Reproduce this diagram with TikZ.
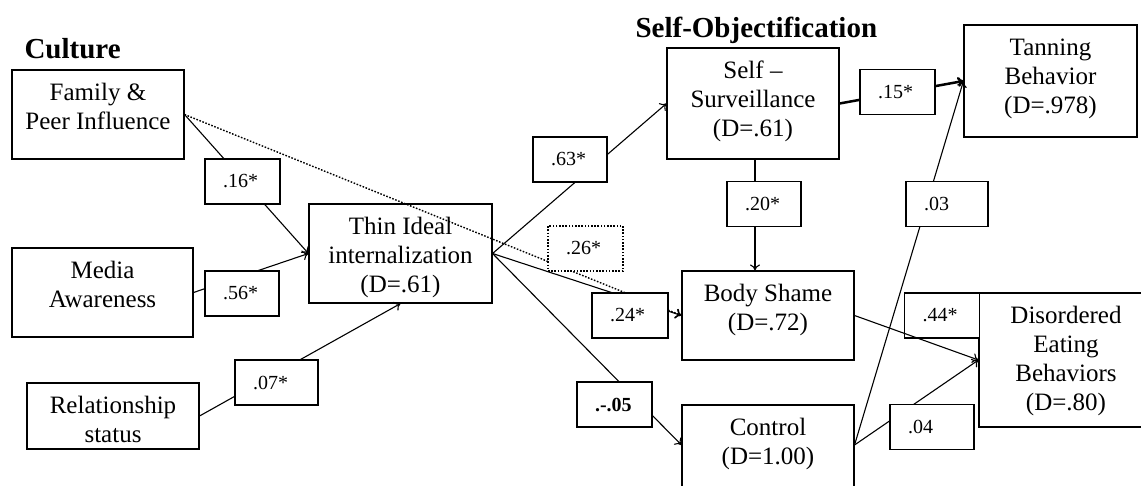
\documentclass[tikz,border=0pt]{standalone}
\usepackage{fontspec}
\setmainfont{Liberation Serif}
\usetikzlibrary{arrows.meta}
\newcommand{\boxtxt}[3]{\parbox[c][#2][t]{#1}{\centering\vspace*{10pt}\strut #3}}
\tikzset{
  box/.style={draw, inner sep=0pt, font=\fontsize{25}{29}\selectfont},
  lbl/.style={draw, fill=white, inner xsep=18pt, inner ysep=0pt, minimum height=45pt,
    text width=#1, align=left, font=\fontsize{20}{24}\selectfont},
  lbl/.default=39pt,
  head/.style={anchor=base west, inner sep=0pt, font=\fontsize{29}{34}\selectfont\bfseries},
  dots/.style={line width=1.4pt, dash pattern=on 1.6pt off 1.6pt}
}

\begin{document}
\begin{tikzpicture}[x=1pt, y=-1pt, line width=1.1pt, >={To[length=6pt,width=10pt]}]
                \useasboundingbox (0,0) rectangle (1141,485);
                \clip (0,0) rectangle (1141,485);
                \node[head] (culture) at (24,58) {Culture};
                \node[head] (selfobj) at (635,37) {Self-Objectification};
                \node[box] (family) at (98,114.5) {\boxtxt{172pt}{89pt}{Family \&\\Peer Influence}};
                \node[box] (media) at (102.5,292.5) {\boxtxt{181pt}{89pt}{Media\\Awareness}};
                \node[box] (rel) at (113,416) {\boxtxt{172pt}{66pt}{Relationship\\status}};
                \node[box] (thin) at (400.5,253.5) {\boxtxt{183pt}{99pt}{Thin Ideal\\internalization\\(D=.61)}};
                \node[box] (ss) at (753,103.5) {\boxtxt{172pt}{111pt}{Self --\\Surveillance\\(D=.61)}};
                \node[box] (bs) at (768,315.5) {\boxtxt{172pt}{89pt}{Body Shame\\(D=.72)}};
                \node[box] (ctrl) at (768,449.5) {\boxtxt{172pt}{89pt}{Control\\(D=1.00)}};
                \node[box] (tan) at (1050.5,81) {\boxtxt{173pt}{112pt}{Tanning\\Behavior\\(D=.978)}};
                \node[box] (dis) at (1066,360) {\boxtxt{174pt}{134pt}{Disordered\\Eating\\Behaviors\\(D=.80)}};
                \draw[->] (family.east) -- (thin.west);
                \draw[->] (media.east) -- (thin.west);
                \draw[->] (rel.east) -- (thin.south);
                \draw[->, dots] (family.east) -- (bs.west);
                \draw[->] (thin.east) -- (ss.west);
                \draw[->] (thin.east) -- (bs.west);
                \draw[->] (thin.east) -- (ctrl.177);
                \draw[->, line width=2.5pt] (ss.east) -- (tan.west);
                \draw[->] ([xshift=2pt]ss.south) -- ([xshift=2pt]ss.south |- bs.north);
                \draw[->] (ctrl.3) -- (tan.west);
                \draw[->] (ctrl.3) -- (dis.west);
                \node[lbl] (l44) at (942,315.5) {.44*};
                \draw[->] (bs.east) -- (dis.west);
                \node[lbl] (l16) at (242.5,181.5) {.16*};
                \node[lbl=38pt] (l56) at (242,293.5) {.56*};
                \node[lbl=47pt] (l07) at (276.5,382.5) {.07*};
                \node[lbl=38pt] (l63) at (570,159.5) {.63*};
                \node[lbl, dots] (l26) at (585.5,248.5) {.26*};
                \node[lbl=40pt] (l24) at (630,315.5) {.24*};
                \node[lbl] (l05) at (614.5,404.5) {\textbf{.-.05}};
                \node[lbl=38pt] (l20) at (764,204) {.20*};
                \node[lbl] (l15) at (897.5,92) {.15*};
                \node[lbl=46pt] (l03) at (947,204) {.03};
                \node[lbl=48pt] (l04) at (932,427) {.04};
            \end{tikzpicture}
\end{document}
